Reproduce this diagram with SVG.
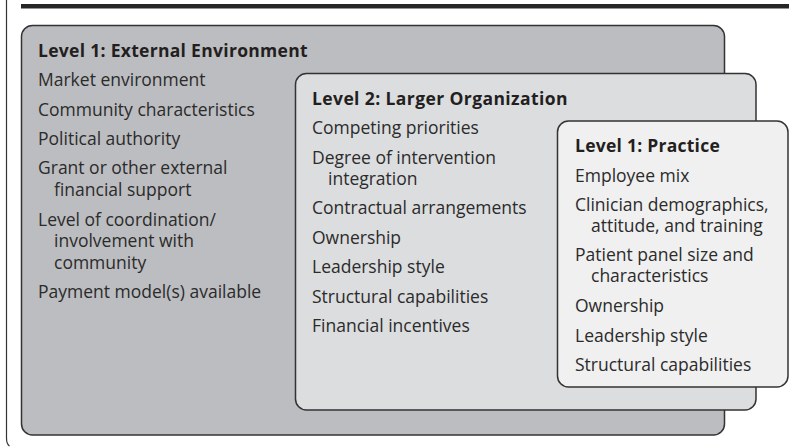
<svg xmlns="http://www.w3.org/2000/svg" width="796" height="447" viewBox="0 0 796 447">
<style>
.box{stroke:#333;stroke-width:1.5}
text{font-family:"Open Sans","Noto Sans","Liberation Sans",sans-serif;font-size:17.5px;fill:#2b2b2b}
.t{font-weight:bold;fill:#231f20;letter-spacing:0.3px}
</style>
<rect width="796" height="447" fill="#fff"/>
<g id="frame">
<path d="M6.5,0 V438 Q6.5,444 9.5,446" fill="none" stroke="#333" stroke-width="1.2"/>
<rect x="21" y="4" width="768" height="4.5" fill="#262626"/>
</g>
<g id="level1-external">
<rect class="box" x="21.5" y="25.5" width="703" height="409.5" rx="11" fill="#bcbdc0"/>
<text class="t" x="38" y="57">Level 1: External Environment</text>
<text x="38" y="86">Market environment</text>
<text x="38" y="116">Community characteristics</text>
<text x="38" y="145">Political authority</text>
<text x="38" y="174">Grant or other external<tspan x="54" dy="22">financial support</tspan></text>
<text x="38" y="225.5">Level of coordination/<tspan x="54" dy="21.5">involvement with</tspan><tspan x="54" dy="21.5">community</tspan></text>
<text x="38" y="297.5">Payment model(s) available</text>
</g>
<g id="level2-organization">
<rect class="box" x="295.5" y="73.5" width="460.5" height="336.5" rx="11" fill="#dcdddf"/>
<text class="t" x="312" y="105" style="letter-spacing:0.4px">Level 2: Larger Organization</text>
<text x="312" y="134">Competing priorities</text>
<text x="312" y="164">Degree of intervention<tspan x="328" dy="21">integration</tspan></text>
<text x="312" y="214">Contractual arrangements</text>
<text x="312" y="244">Ownership</text>
<text x="312" y="273">Leadership style</text>
<text x="312" y="302.5">Structural capabilities</text>
<text x="312" y="331.5">Financial incentives</text>
</g>
<g id="level1-practice">
<rect class="box" x="557.5" y="121" width="230.5" height="266" rx="11" fill="#f0f0f0"/>
<text class="t" x="575" y="151.5" style="letter-spacing:0.25px">Level 1: Practice</text>
<text x="575" y="181.5">Employee mix</text>
<text x="575" y="210.5">Clinician demographics,<tspan x="591" dy="21">attitude, and training</tspan></text>
<text x="575" y="260.5">Patient panel size and<tspan x="591" dy="21">characteristics</tspan></text>
<text x="575" y="312">Ownership</text>
<text x="575" y="341.5">Leadership style</text>
<text x="575" y="370.5">Structural capabilities</text>
</g>
<g id="connectors"></g>
</svg>
